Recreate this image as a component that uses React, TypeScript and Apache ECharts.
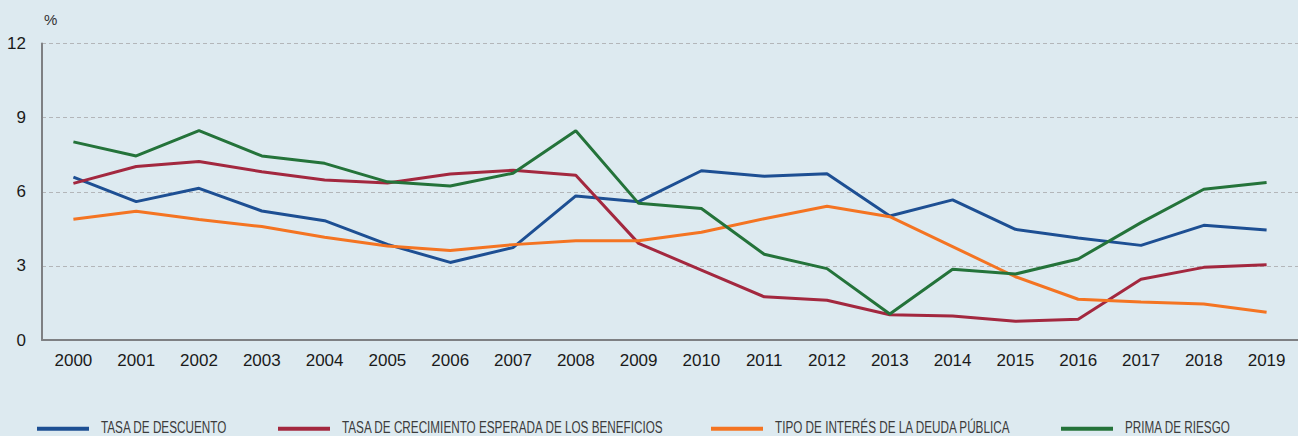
import React, { useEffect, useRef } from "react";
import * as echarts from "echarts";

const years = ["2000","2001","2002","2003","2004","2005","2006","2007","2008","2009","2010","2011","2012","2013","2014","2015","2016","2017","2018","2019"];
const tasaDescuento = [6.59,5.6,6.14,5.22,4.83,3.87,3.14,3.74,5.83,5.6,6.85,6.63,6.73,5.02,5.67,4.48,4.13,3.83,4.64,4.45];
const tasaCrecimiento = [6.34,7.02,7.22,6.81,6.48,6.35,6.72,6.87,6.67,3.91,2.83,1.75,1.61,1.02,0.97,0.76,0.84,2.46,2.94,3.05];
const tipoInteres = [4.89,5.21,4.88,4.59,4.16,3.8,3.62,3.86,4.02,4.02,4.36,4.91,5.41,4.99,3.78,2.56,1.65,1.54,1.46,1.12];
const primaRiesgo = [8.02,7.45,8.47,7.45,7.15,6.4,6.23,6.75,8.47,5.53,5.32,3.47,2.89,1.05,2.86,2.67,3.28,4.75,6.1,6.37];
const seriesNames = ["TASA DE DESCUENTO","TASA DE CRECIMIENTO ESPERADA DE LOS BENEFICIOS","TIPO DE INTERÉS DE LA DEUDA PÚBLICA","PRIMA DE RIESGO"];
const seriesData = [tasaDescuento, tasaCrecimiento, tipoInteres, primaRiesgo];
const colors = ["#1d4f93","#a3283f","#f47422","#24733a"];
const legendLefts = [37, 278, 711, 1061];

export default function App() {
  const ref = useRef<HTMLDivElement>(null);
  useEffect(() => {
    if (!ref.current) return;
    const chart = echarts.init(ref.current, null, { renderer: "svg" });
    const font = "'Liberation Sans', Arial, sans-serif";
    const legendGraphics: any[] = [];
    seriesNames.forEach((n, i) => {
      legendGraphics.push({
        type: "rect",
        x: legendLefts[i],
        y: 426.7,
        shape: { x: 0, y: 0, width: 52, height: 4 },
        style: { fill: colors[i] },
      });
      legendGraphics.push({
        type: "text",
        x: legendLefts[i] + 64,
        y: 427.2,
        scaleX: 0.69,
        style: {
          text: n,
          fontSize: 17,
          fontFamily: font,
          fill: "#3c3c3c",
          verticalAlign: "middle",
          align: "left",
        },
      });
    });
    chart.setOption({
      animation: false,
      backgroundColor: "#ddeaf0",
      grid: { left: 42, right: 0, top: 43.5, bottom: 96, containLabel: false },
      xAxis: {
        type: "category",
        data: years,
        boundaryGap: true,
        axisLine: { lineStyle: { color: "#7e8083", width: 2 } },
        axisTick: { inside: true, length: 6, lineStyle: { color: "#7e8083", width: 1 } },
        axisLabel: { color: "#1a1a1a", fontSize: 17, fontFamily: font, margin: 12 },
      },
      yAxis: {
        type: "value",
        min: 0,
        max: 12,
        interval: 3,
        axisLine: { show: true, lineStyle: { color: "#7e8083", width: 2 } },
        axisTick: { show: false },
        axisLabel: { color: "#1a1a1a", fontSize: 17, fontFamily: font, margin: 16 },
        splitLine: { lineStyle: { color: "#b3b6b9", type: [4, 3], width: 1 } },
      },
      graphic: [
        { type: "text", x: 44, y: 12, style: { text: "%", fontSize: 15, fontFamily: font, fill: "#333" } },
        ...legendGraphics,
      ],
      series: seriesNames.map((n, i) => ({
        name: n,
        type: "line",
        data: seriesData[i],
        symbol: "none",
        lineStyle: { color: colors[i], width: 3 },
        itemStyle: { color: colors[i] },
      })),
    });
    return () => chart.dispose();
  }, []);
  return <div ref={ref} style={{ position: "fixed", left: 0, top: 0, width: 1298, height: 436 }} />;
}
